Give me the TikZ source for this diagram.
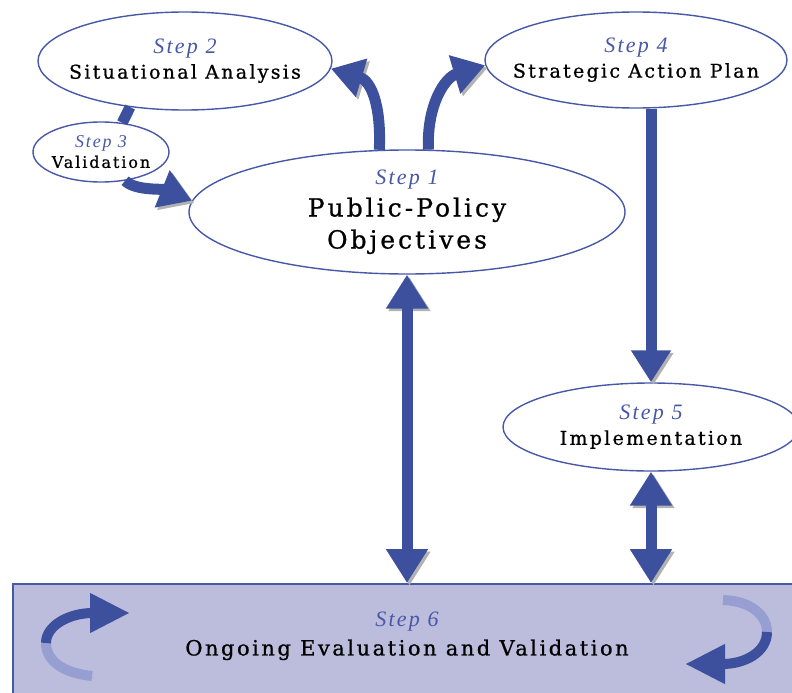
\documentclass[tikz,border=0pt]{standalone}
\usepackage{fontspec}
\setmainfont{DejaVu Serif}[LetterSpace=12,FakeBold=0.8]
\newfontfamily\stepfont{Liberation Serif}[LetterSpace=10]
\usetikzlibrary{shapes.geometric,arrows.meta}
\definecolor{arrowblue}{RGB}{60,80,158}
\definecolor{lineblue}{RGB}{72,88,168}
\definecolor{boxfill}{RGB}{188,188,220}
\definecolor{fadeblue}{RGB}{150,158,210}
\definecolor{shadowgray}{RGB}{178,178,178}
\definecolor{boxshadow}{RGB}{168,168,150}
\newcommand{\steplbl}[2]{{\stepfont\itshape\fontsize{#1}{#1}\selectfont\color{lineblue}#2}}
\tikzset{
  stepnode/.style={ellipse, draw=lineblue, line width=1.4pt, fill=white, inner sep=0pt},
  steptext/.style={align=center, inner sep=0pt},
  stepbox/.style={rectangle, draw=lineblue, line width=1.6pt, fill=boxfill, inner sep=0pt},
  bigarrow/.style={draw=arrowblue, line width=11pt, -{Triangle[width=38pt,length=32pt]},
    preaction={draw=shadowgray, transform canvas={xshift=2.5pt,yshift=-2.5pt}}},
  twoway/.style={bigarrow, {Triangle[width=40pt,length=34pt]}-{Triangle[width=40pt,length=34pt]}},
  link/.style={draw=arrowblue, line width=11pt,
    preaction={draw=shadowgray, transform canvas={xshift=2.5pt,yshift=-2.5pt}}},
  loopfade/.style={draw=fadeblue, line width=10pt,
    preaction={draw=boxshadow, transform canvas={xshift=2pt,yshift=-2pt}}},
  looparrow/.style={draw=arrowblue, line width=10pt, -{Triangle[width=37pt,length=40pt]},
    preaction={draw=boxshadow, transform canvas={xshift=2pt,yshift=-2pt}}}
}
\begin{document}
\begin{tikzpicture}[x=1pt,y=-1pt]
\useasboundingbox (0,0) rectangle (792,693);
% step 6 box
\node[stepbox, minimum width=800pt, minimum height=124pt, anchor=north west] (s6) at (12,583) {};
\node[steptext, font=\fontsize{21}{29}\selectfont] (s6t) at (407,636) {\steplbl{22}{Step 6}\\Ongoing Evaluation and Validation};
% ellipses
\node[stepnode, minimum width=436pt, minimum height=124pt,
  label={[steptext, font=\fontsize{25}{32}\selectfont]center:{\steplbl{22}{Step 1}\\Public-Policy\\Objectives}}] (s1) at (407,212) {};
\node[stepnode, minimum width=294pt, minimum height=98pt,
  label={[steptext, font=\fontsize{19}{25}\selectfont]center:{\steplbl{22}{Step 2}\\Situational Analysis}}] (s2) at (185,61) {};
\node[stepnode, minimum width=136pt, minimum height=60pt,
  label={[steptext, font=\fontsize{16}{20}\selectfont]center:{\steplbl{18}{Step 3}\\Validation}}] (s3) at (101,152) {};
\node[stepnode, minimum width=302pt, minimum height=96pt,
  label={[steptext, font=\fontsize{19}{25}\selectfont]center:{\steplbl{22}{Step 4}\\Strategic Action Plan}}] (s4) at (636,60) {};
\node[stepnode, minimum width=296pt, minimum height=88pt,
  label={[steptext, font=\fontsize{19}{25}\selectfont]center:{\steplbl{22}{Step 5}\\Implementation}}] (s5) at (651,427) {};
% connectors
\draw[link] (s2.220) -- (s3.54);
\draw[bigarrow] (s3.310) .. controls +(10,10) and +(-30,-12) .. (s1.177);
\draw[bigarrow] (s1.114) .. controls +(2,-45) and +(40,12) .. (s2.357);
\draw[bigarrow] (s1.71) .. controls +(-2,-45) and +(-40,12) .. (s4.182);
\draw[bigarrow] (s5.north |- s4.south) -- (s5.north);
\draw[twoway] (s1.south) -- (s1.south |- s6.north);
\draw[twoway] (s5.south) -- (s5.south |- s6.north);
% loops in the box
\draw[loopfade] (92,676) .. controls (62,673) and (46,660) .. (46,643);
\draw[looparrow] (46,643) .. controls (46,625) and (70,613) .. (130,613);
\draw[loopfade] (723,600) .. controls (752,601) and (767,616) .. (767,632);
\draw[looparrow] (767,632) .. controls (767,652) and (745,664) .. (685,664);
\end{tikzpicture}
\end{document}
